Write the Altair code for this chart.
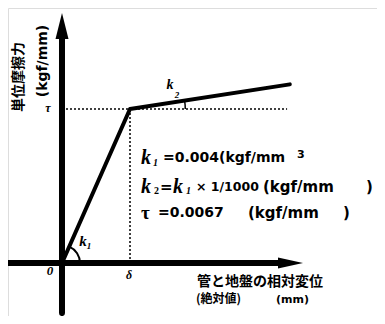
import altair as alt
import pandas as pd

# ---- data (normalised: displacement / delta, friction / tau) ----
curve_x = [0.0, 1.0, 3.35]
curve_y = [0.0, 1.0, 1.16]
tau_level = 1.0
delta_level = 1.0
tau_line_end = 3.31
x_axis_ext = [-0.8, 3.25]
y_axis_ext = [-0.325, 1.50]
x_arrow = 3.36
y_arrow = 1.539
k1_theta = [0.416, 1.5708]
k2_theta = [1.416, 1.5708]

XDOM = [-0.794, 4.632]
YDOM = [-0.344, 1.656]

W, H = 369, 308
xs = alt.Scale(domain=XDOM, nice=False, zero=False)
ys = alt.Scale(domain=YDOM, nice=False, zero=False)

def X(f="x"):
    return alt.X(f"{f}:Q", scale=xs, axis=None)

def Y(f="y"):
    return alt.Y(f"{f}:Q", scale=ys, axis=None)

layers = []

# axes
xa = pd.DataFrame({"x": [x_axis_ext[0]], "x2": [x_axis_ext[1]], "y": [0.0]})
layers.append(alt.Chart(xa).mark_rule(color="black", strokeWidth=6).encode(
    x=X(), x2="x2:Q", y=Y()))
ya = pd.DataFrame({"x": [0.0], "y": [y_axis_ext[0]], "y2": [y_axis_ext[1]]})
layers.append(alt.Chart(ya).mark_rule(color="black", strokeWidth=6, strokeCap="round").encode(
    x=X(), y=Y(), y2="y2:Q"))

# arrow heads
layers.append(alt.Chart(pd.DataFrame({"x": [x_arrow], "y": [0.0]})).mark_point(
    shape="M1,0L-1,-0.44L-1,0.44Z", size=625, filled=True, color="black", opacity=1).encode(
    x=X(), y=Y()))
layers.append(alt.Chart(pd.DataFrame({"x": [0.0], "y": [y_arrow]})).mark_point(
    shape="M0,-1L0.5,1L-0.5,1Z", size=676, filled=True, color="black", opacity=1).encode(
    x=X(), y=Y()))

# dotted guides
layers.append(alt.Chart(pd.DataFrame({"x": [0.0], "x2": [tau_line_end], "y": [tau_level]})).mark_rule(
    color="black", strokeWidth=1.5, strokeDash=[2, 2]).encode(x=X(), x2="x2:Q", y=Y()))
layers.append(alt.Chart(pd.DataFrame({"x": [delta_level], "y": [0.0], "y2": [tau_level]})).mark_rule(
    color="black", strokeWidth=1.5, strokeDash=[2, 2]).encode(x=X(), y=Y(), y2="y2:Q"))

# bilinear curve
cdf = pd.DataFrame({"x": curve_x, "y": curve_y, "o": list(range(len(curve_x)))})
layers.append(alt.Chart(cdf).mark_line(color="black", strokeWidth=4, strokeJoin="round", strokeCap="round").encode(
    x=X(), y=Y(), order="o:O"))

# angle arcs
layers.append(alt.Chart(pd.DataFrame({"x": [0.0], "y": [0.0]})).mark_arc(
    radius=19, radius2=17, theta=k1_theta[0], theta2=k1_theta[1], color="black").encode(x=X(), y=Y()))
layers.append(alt.Chart(pd.DataFrame({"x": [curve_x[1]], "y": [curve_y[1]]})).mark_arc(
    radius=56, radius2=54.5, theta=k2_theta[0], theta2=k2_theta[1], color="black").encode(x=X(), y=Y()))

# text annotations (page coords -> view coords)
def label(t, px, py, size, font="DejaVu Sans", weight="bold", style="normal", align="left", angle=0):
    return alt.Chart(pd.DataFrame({"t": [t]})).mark_text(
        font=font, fontSize=size, fontWeight=weight, fontStyle=style, align=align,
        baseline="middle", angle=angle, color="black").encode(
        text="t:N", x=alt.value(px - 8), y=alt.value(py - 8))

SER = "Liberation Serif"
JP = "Noto Sans CJK JP"
layers += [
    label("単位摩擦力", 19, 77, 14, font=JP, align="center", angle=270),
    label("(kgf/mm)", 43, 61, 14, align="center", angle=270),
    label("τ", 48, 108, 12, font=SER, style="italic", align="center"),
    label("0", 50, 271, 13, font=SER, style="italic", align="center"),
    label("δ", 129, 275, 12, font=SER, style="italic", align="center"),
    label("k", 83, 241, 15, font=SER, style="italic", align="center"),
    label("1", 89, 246, 9, font=SER, style="italic", align="center"),
    label("k", 170, 85, 14, font=SER, style="italic", align="center"),
    label("2", 177, 95, 9, font=SER, style="italic", align="center"),
    # line 1
    label("k", 141, 158, 20, font=SER, style="italic"),
    label("1", 153, 163, 10, font=SER, style="italic"),
    label("=0.004(kgf/mm", 163, 158, 14),
    label("3", 297, 155, 11),
    # line 2
    label("k", 141, 187, 20, font=SER, style="italic"),
    label("2", 154, 191, 10, font=SER),
    label("=", 160, 187, 15),
    label("k", 173, 187, 20, font=SER, style="italic"),
    label("1", 186, 191, 10, font=SER, style="italic"),
    label("× 1/1000", 196, 187, 12.5),
    label("(kgf/mm", 263, 187, 15),
    label(")", 366, 187, 15),
    # line 3
    label("τ", 141, 213, 19, font=SER),
    label("=0.0067", 158, 213, 14),
    label("(kgf/mm", 248, 213, 15),
    label(")", 343, 213, 15),
    # x-axis label
    label("管と地盤の相対変位", 197, 282, 14, font=JP),
    label("(絶対値)", 196, 299, 12, font=JP),
    label("(mm)", 276, 300, 11),
]

chart = alt.layer(*layers).properties(
    width=W, height=H, padding=0, autosize="none"
).configure_view(stroke=None).configure(background="white")

chart.save("out.html", embed_options={"renderer": "svg", "actions": False})
